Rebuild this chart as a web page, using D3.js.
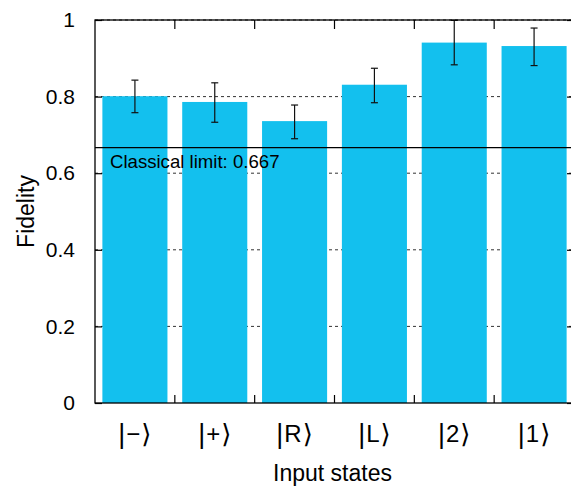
<!DOCTYPE html>
<html>
<head>
<meta charset="utf-8">
<script src="https://cdn.jsdelivr.net/npm/d3@7"></script>
<style>
  body { margin: 0; background: white; }
  svg { display: block; font-family: "Liberation Sans", Arial, sans-serif; }
</style>
</head>
<body>
<svg class="chart" width="571" height="489"></svg>
<script>
const categories = ["−", "+", "R", "L", "2", "1"];
const fidelity = [0.801, 0.786, 0.736, 0.831, 0.941, 0.932];
const errLow = [0.758, 0.733, 0.690, 0.784, 0.883, 0.881];
const errHigh = [0.843, 0.836, 0.778, 0.874, 0.999, 0.979];
const yTicks = [0, 0.2, 0.4, 0.6, 0.8, 1];
const classicalLimit = 0.667;

const plotLeft = 95, plotRight = 574, plotTop = 20, plotBottom = 403;
const barColor = "#13c0ee";

const svg = d3.select("svg.chart");

const x = d3.scaleBand()
  .domain(categories)
  .range([plotLeft, plotRight])
  .paddingInner(0.185)
  .paddingOuter(0.0925);

const y = d3.scaleLinear().domain([0, 1]).range([plotBottom, plotTop]);

const data = categories.map((c, i) => ({
  cat: c,
  value: fidelity[i],
  lo: errLow[i],
  hi: errHigh[i],
}));

// dotted grid behind bars
svg.append("g")
  .selectAll("line")
  .data(yTicks.filter((d) => d > 0))
  .join("line")
  .attr("x1", plotLeft)
  .attr("x2", plotRight)
  .attr("y1", (d) => y(d))
  .attr("y2", (d) => y(d))
  .attr("stroke", "#333")
  .attr("stroke-width", 1)
  .attr("stroke-dasharray", "3,3");

// bars
svg.append("g")
  .selectAll("rect")
  .data(data)
  .join("rect")
  .attr("x", (d) => x(d.cat))
  .attr("y", (d) => y(d.value))
  .attr("width", x.bandwidth())
  .attr("height", (d) => y(0) - y(d.value))
  .attr("fill", barColor);

// classical limit
svg.append("line")
  .attr("x1", plotLeft)
  .attr("x2", plotRight)
  .attr("y1", y(classicalLimit))
  .attr("y2", y(classicalLimit))
  .attr("stroke", "black")
  .attr("stroke-width", 1.3);

svg.append("text")
  .attr("x", plotLeft + 15)
  .attr("y", y(classicalLimit) + 20)
  .attr("font-size", 18.6)
  .attr("fill", "black")
  .text("Classical limit: " + classicalLimit);

// error bars
const err = svg.append("g")
  .attr("stroke", "#111")
  .attr("stroke-width", 1.2);
const cx = (d) => x(d.cat) + x.bandwidth() / 2;
err.selectAll("line.v")
  .data(data)
  .join("line")
  .attr("class", "v")
  .attr("x1", cx)
  .attr("x2", cx)
  .attr("y1", (d) => y(d.lo))
  .attr("y2", (d) => y(d.hi));
["lo", "hi"].forEach((k) => {
  err.selectAll("line." + k)
    .data(data)
    .join("line")
    .attr("class", k)
    .attr("x1", (d) => cx(d) - 3.5)
    .attr("x2", (d) => cx(d) + 3.5)
    .attr("y1", (d) => y(d[k]))
    .attr("y2", (d) => y(d[k]));
});

// frame
svg.append("rect")
  .attr("x", plotLeft)
  .attr("y", plotTop)
  .attr("width", plotRight - plotLeft)
  .attr("height", plotBottom - plotTop)
  .attr("fill", "none")
  .attr("stroke", "black")
  .attr("stroke-width", 1.3);

// y axis ticks and labels
const yAxis = d3.axisLeft(y)
  .tickValues(yTicks)
  .tickSize(-7)
  .tickPadding(20)
  .tickFormat(d3.format("~g"));
const gy = svg.append("g")
  .attr("transform", `translate(${plotLeft},0)`)
  .call(yAxis);
gy.select(".domain").remove();
gy.selectAll("line").attr("stroke-width", 1.2);
gy.selectAll("text")
  .attr("font-size", 21)
  .attr("font-family", "Liberation Sans, Arial, sans-serif")
  .attr("fill", "black");

const gyr = svg.append("g")
  .attr("transform", `translate(${plotRight},0)`)
  .call(d3.axisRight(y).tickValues(yTicks).tickSize(-7).tickFormat(""));
gyr.select(".domain").remove();
gyr.selectAll("line").attr("stroke-width", 1.2);

// category separators (top and bottom ticks)
const seps = categories.slice(1).map((c) => x(c) - (x.step() * x.paddingInner()) / 2);
svg.append("g")
  .selectAll("line")
  .data(seps)
  .join("line")
  .attr("x1", (d) => d)
  .attr("x2", (d) => d)
  .attr("y1", plotBottom)
  .attr("y2", plotBottom - 8)
  .attr("stroke", "black")
  .attr("stroke-width", 1.2);
svg.append("g")
  .selectAll("line")
  .data(seps)
  .join("line")
  .attr("x1", (d) => d)
  .attr("x2", (d) => d)
  .attr("y1", plotTop)
  .attr("y2", plotTop + 9)
  .attr("stroke", "black")
  .attr("stroke-width", 1.2);

// category labels: |state⟩
const labels = svg.append("g")
  .selectAll("text")
  .data(categories)
  .join("text")
  .attr("x", (d) => x(d) + x.bandwidth() / 2)
  .attr("y", 442)
  .attr("text-anchor", "middle")
  .attr("fill", "black");
labels.append("tspan")
  .attr("font-size", 27)
  .attr("dy", 1)
  .text("|");
labels.append("tspan")
  .attr("font-size", 24)
  .attr("dx", 1)
  .attr("dy", -1)
  .text((d) => d);
labels.append("tspan")
  .attr("font-size", 26)
  .attr("font-family", "DejaVu Sans")
  .attr("dx", 1)
  .attr("dy", 1)
  .text("⟩");

// axis titles
svg.append("text")
  .attr("x", (plotLeft + plotRight) / 2 - 2)
  .attr("y", 481)
  .attr("text-anchor", "middle")
  .attr("font-size", 23)
  .attr("fill", "black")
  .text("Input states");

svg.append("text")
  .attr("transform", `translate(34,${(plotTop + plotBottom) / 2}) rotate(-90)`)
  .attr("text-anchor", "middle")
  .attr("font-size", 23)
  .attr("fill", "black")
  .text("Fidelity");
</script>
</body>
</html>
